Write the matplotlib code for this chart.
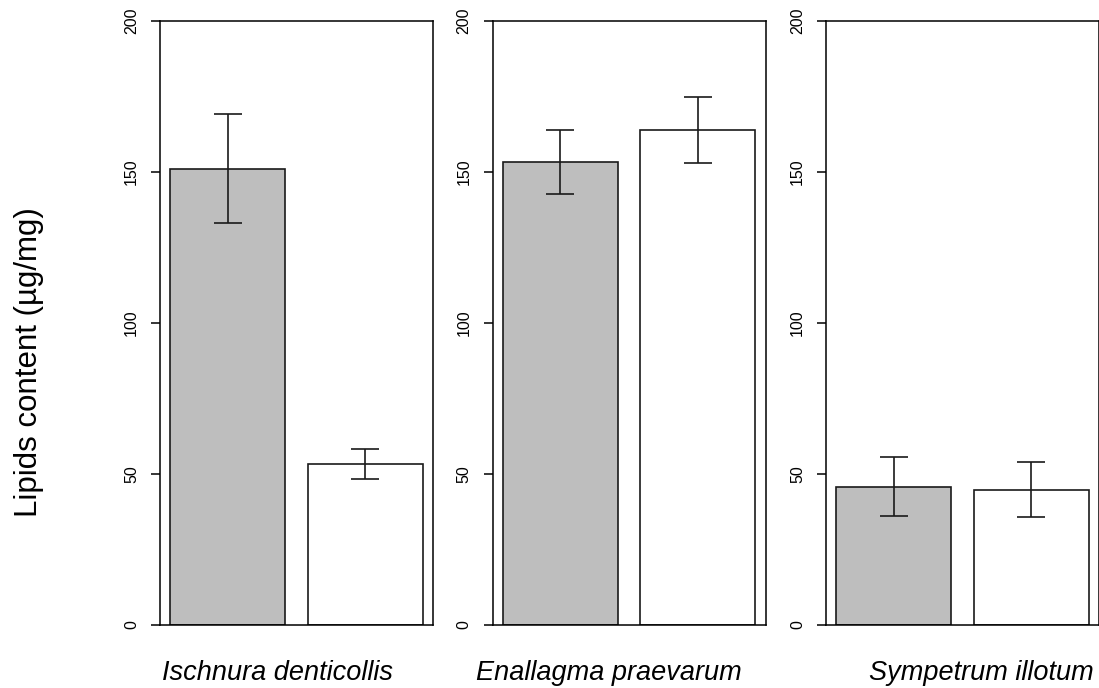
import numpy as np
import matplotlib.pyplot as plt

plt.rcParams['font.family'] = ['Liberation Sans', 'DejaVu Sans']

species = ["Ischnura denticollis", "Enallagma praevarum", "Sympetrum illotum"]
grey_means = [151.0, 153.3, 45.8]
grey_err = [18.0, 10.5, 9.7]
white_means = [53.2, 163.8, 44.8]
white_err = [4.9, 11.0, 9.2]
yticks = [0, 50, 100, 150, 200]

W, H = 1099, 688
fig = plt.figure(figsize=(W / 100, H / 100), dpi=100)

# panel geometry in pixels (R barplot style layout)
lefts = [160, 492.5, 826]
pw = 273
top, bottom = 20.7, 625
label_x = [278, 609, 981]

for i in range(3):
    ax = fig.add_axes([lefts[i] / W, (H - bottom) / H, pw / W, (bottom - top) / H])
    xs = [0.7, 1.9]
    ax.bar(xs, [grey_means[i], white_means[i]], width=1.0,
           color=['#bebebe', 'white'], edgecolor='#1a1a1a', linewidth=1.2, zorder=2)
    ax.errorbar(xs, [grey_means[i], white_means[i]], yerr=[grey_err[i], white_err[i]],
                fmt='none', ecolor='#1a1a1a', elinewidth=1.2, capsize=10.4, capthick=1.2, zorder=3)
    ax.set_xlim(0.112, 2.488)
    ax.set_ylim(0, 200)
    ax.set_yticks(yticks)
    ax.set_yticklabels([str(t) for t in yticks], rotation=90, va='center', fontsize=11.5)
    ax.tick_params(axis='y', length=6.5, width=1.1, pad=8.5)
    ax.set_xticks([])
    for s in ax.spines.values():
        s.set_linewidth(1.1)
    fig.text(label_x[i] / W, 8 / H, species[i], ha='center', va='baseline',
             fontsize=19.5, style='italic')

fig.text(29 / W, 1 - 362 / H, "Lipids content (µg/mg)", rotation=90,
         ha='center', va='center', fontsize=22.5)

fig.savefig("out.png", dpi=100)
